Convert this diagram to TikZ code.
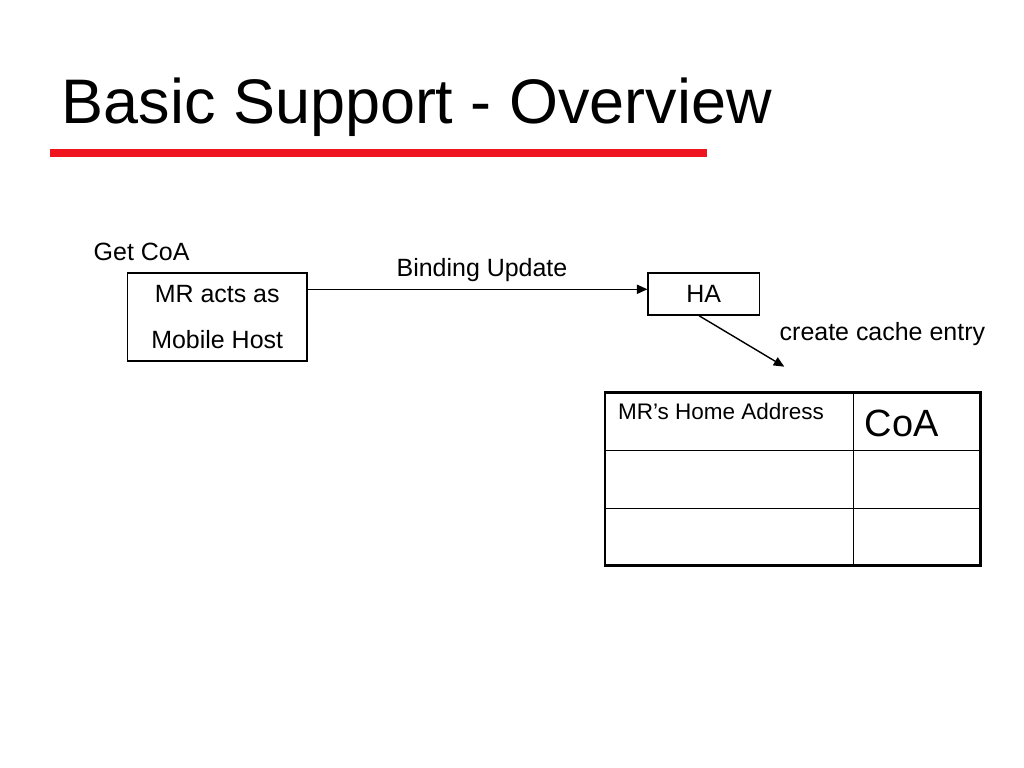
\documentclass[tikz,border=0pt]{standalone}
\usepackage{fontspec}
\setmainfont{Liberation Sans}
\usetikzlibrary{arrows.meta,positioning}
\definecolor{titlered}{RGB}{240,20,30}

\begin{document}
\begin{tikzpicture}[>={Triangle[length=3pt,width=2.6pt]}, x=0.01cm, y=-0.01cm,
    box/.style={draw, line width=0.45pt, inner sep=0pt, align=center},
    txt/.style={inner sep=0pt, font=\fontsize{7.1}{13.1}\selectfont}]

    \useasboundingbox (0,0) rectangle (1024,768);

    \node[anchor=base west, inner sep=0pt, font=\fontsize{17.9}{20}\selectfont] (title) at (61,124) {Basic Support - Overview};
    \draw[line width=2.1pt, titlered] (50,153) -- (707,153);

    \node[txt, anchor=base west] (getcoa) at (93,260.7) {Get CoA};
    \node[box, txt, minimum width=1.79cm, minimum height=0.88cm] (mr) at (217.2,316.9) {MR acts as\\Mobile Host};
    \node[box, txt, minimum width=1.11cm, minimum height=0.423cm] (ha) at (703.8,293.9) {HA};

    \draw[->, line width=0.4pt] (mr.east |- 0,289.3) -- (ha.west |- 0,289.3);
    \node[txt, anchor=base] (bu) at (482,276.7) {Binding Update};

    \coordinate (entry) at (784.3,366.7);
    \draw[->, line width=0.4pt] ([xshift=-1.3pt]ha.south) -- (entry);
    \node[txt, anchor=base west] (cce) at (779,340.7) {create cache entry};

    % binding cache
    \coordinate (tl) at (605,392.3);
    \coordinate (br) at (980.7,565.7);
    \draw[line width=0.4pt] (853.3,392.3) -- (853.3,565.7);
    \draw[line width=0.4pt] (605,450.3) -- (980.7,450.3);
    \draw[line width=0.4pt] (605,508.3) -- (980.7,508.3);
    \draw[line width=0.8pt] (tl) rectangle (br);

    \node[inner sep=0pt, anchor=base west, font=\fontsize{6.4}{8}\selectfont] (hoa) at (617.3,419.3) {MR’s Home Address};
    \node[inner sep=0pt, anchor=base west, font=\fontsize{10.8}{13}\selectfont] (coa) at (864,436.7) {CoA};

\end{tikzpicture}
\end{document}
